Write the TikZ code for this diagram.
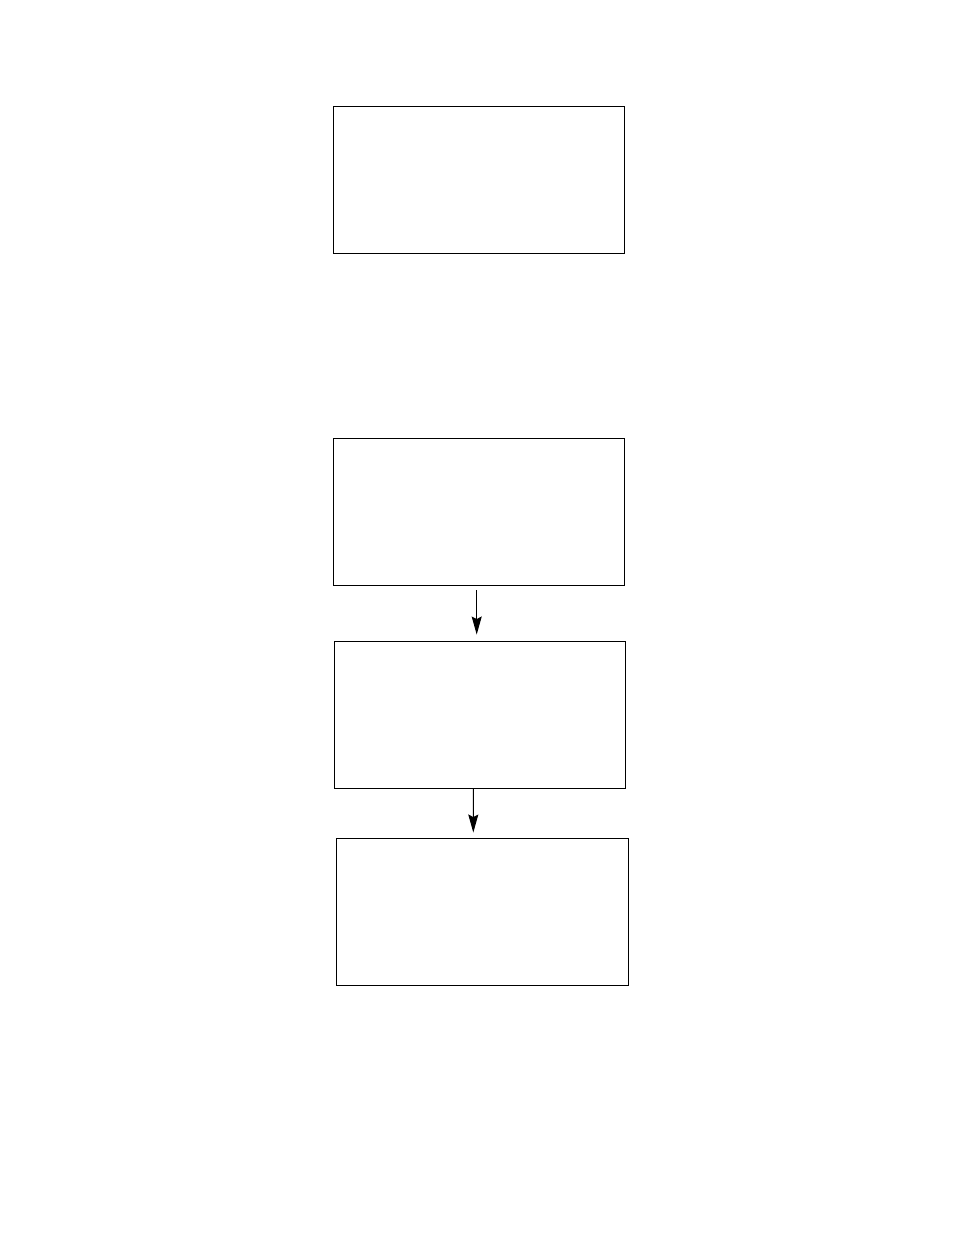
\documentclass[tikz,border=0pt]{standalone}
\usepackage{tikz}
\usetikzlibrary{calc}
\usetikzlibrary{arrows.meta}

\begin{document}
\begin{tikzpicture}[x=0.02cm, y=-0.02cm,
        box/.style={rectangle, draw, line width=0.55pt, inner sep=0pt, minimum width=5.84cm, minimum height=2.94cm},
        flow/.style={line width=0.55pt, -{Stealth[length=0.36cm, width=0.2cm, inset=0.05cm]}}]
        \useasboundingbox (0,0) rectangle (954,1235);

        % Nodes
        \node[box] (b1) at (479, 179.5) {};
        \node[box] (b2) at (479, 511.5) {};
        \node[box] (b3) at (480, 714.5) {};
        \node[box] (b4) at (482.5, 911.5) {};

        % Lines
        \draw[flow] ($(b2.south)+(-2.3,5)$) -- ($(b3.north)+(-3.3,-6)$);
        \draw[flow] ($(b3.south)+(-6.7,0)$) -- ($(b4.north)+(-9.2,-5)$);
    \end{tikzpicture}
\end{document}
